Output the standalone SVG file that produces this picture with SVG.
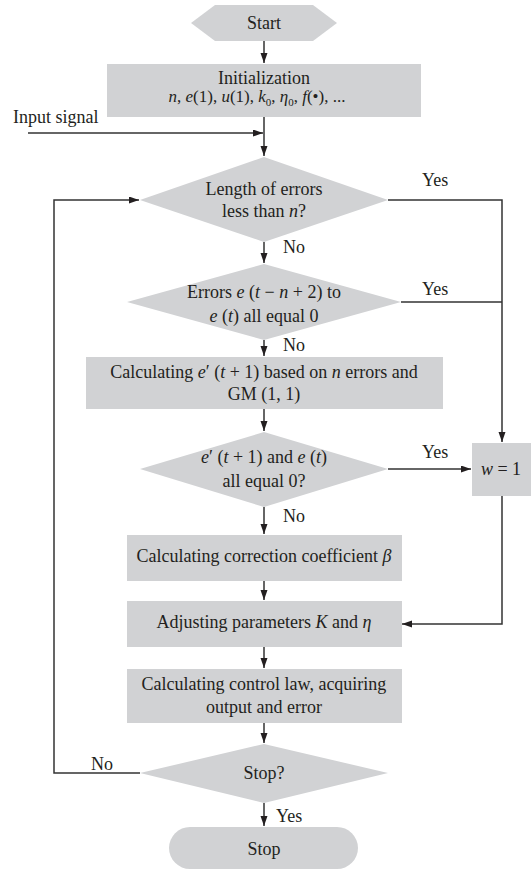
<svg xmlns="http://www.w3.org/2000/svg" width="531" height="869" viewBox="0 0 531 869">
<style>
.n{fill:#d1d2d4;stroke:none}
.t{font-family:"Liberation Serif","Times New Roman",serif;font-size:18px;fill:#231f20;text-anchor:middle}
.l{font-family:"Liberation Serif","Times New Roman",serif;font-size:18px;fill:#231f20}
.i{font-style:italic}
.c{fill:none;stroke:#333;stroke-width:1.5}
.s{font-size:11px}
</style>
<defs>
<marker id="a" markerUnits="userSpaceOnUse" markerWidth="11" markerHeight="8" refX="10" refY="3.5" orient="auto">
<path d="M0,0 L10,3.5 L0,7 z" fill="#231f20"/>
</marker>
</defs>
<rect width="531" height="869" fill="#fff"/>
<g id="connectors">
<line class="c" x1="264" y1="41" x2="264" y2="63" marker-end="url(#a)"/>
<line class="c" x1="264" y1="117" x2="264" y2="156" marker-end="url(#a)"/>
<line class="c" x1="28" y1="133" x2="263" y2="133" marker-end="url(#a)"/>
<line class="c" x1="264" y1="242" x2="264" y2="263" marker-end="url(#a)"/>
<line class="c" x1="264" y1="340" x2="264" y2="356" marker-end="url(#a)"/>
<line class="c" x1="264" y1="409" x2="264" y2="431" marker-end="url(#a)"/>
<line class="c" x1="264" y1="507" x2="264" y2="534" marker-end="url(#a)"/>
<line class="c" x1="264" y1="581" x2="264" y2="600" marker-end="url(#a)"/>
<line class="c" x1="264" y1="647" x2="264" y2="668" marker-end="url(#a)"/>
<line class="c" x1="264" y1="723" x2="264" y2="743" marker-end="url(#a)"/>
<line class="c" x1="264" y1="803" x2="264" y2="826" marker-end="url(#a)"/>
<polyline class="c" points="388,200 502,200 502,442" marker-end="url(#a)"/>
<line class="c" x1="401" y1="302" x2="502" y2="302"/>
<line class="c" x1="388" y1="469" x2="471" y2="469" marker-end="url(#a)"/>
<polyline class="c" points="502,496 502,624 402,624" marker-end="url(#a)"/>
<polyline class="c" points="140,773 54,773 54,200 139,200" marker-end="url(#a)"/>
<text class="l" x="13" y="123">Input signal</text>
<text class="l" x="422" y="186">Yes</text>
<text class="l" x="283" y="253">No</text>
<text class="l" x="422" y="295">Yes</text>
<text class="l" x="283" y="351">No</text>
<text class="l" x="422" y="458">Yes</text>
<text class="l" x="283" y="522">No</text>
<text class="l" x="91" y="770">No</text>
<text class="l" x="276" y="822">Yes</text>
</g>
<g id="start">
<polygon class="n" points="191,23 215,5 313,5 337,23 313,41 215,41"/>
<text class="t" x="264" y="29">Start</text>
</g>
<g id="init">
<rect class="n" x="107" y="64" width="314" height="53"/>
<text class="t" x="264" y="84">Initialization</text>
<text class="t" x="257" y="102" style="font-size:17px"><tspan class="i">n</tspan>, <tspan class="i">e</tspan>(1), <tspan class="i">u</tspan>(1), <tspan class="i">k</tspan><tspan class="s" dy="4">0</tspan><tspan dy="-4">, </tspan><tspan class="i">η</tspan><tspan class="s" dy="4">0</tspan><tspan dy="-4">, </tspan><tspan class="i">f</tspan>(•), ...</text>
</g>
<g id="d1">
<polygon class="n" points="140,200 264,157 388,200 264,242"/>
<text class="t" x="264" y="195">Length of errors</text>
<text class="t" x="264" y="217">less than <tspan class="i">n</tspan>?</text>
</g>
<g id="d2">
<polygon class="n" points="127,302 264,264 401,302 264,340"/>
<text class="t" x="264" y="298">Errors <tspan class="i">e</tspan> (<tspan class="i">t</tspan> − <tspan class="i">n</tspan> + 2) to</text>
<text class="t" x="264" y="322"><tspan class="i">e</tspan> (<tspan class="i">t</tspan>) all equal 0</text>
</g>
<g id="b3">
<rect class="n" x="86" y="357" width="357" height="52"/>
<text class="t" x="264" y="378">Calculating <tspan class="i">e</tspan>′ (<tspan class="i">t</tspan> + 1) based on <tspan class="i">n</tspan> errors and</text>
<text class="t" x="264" y="400">GM (1, 1)</text>
</g>
<g id="d4">
<polygon class="n" points="140,469 264,432 388,469 264,507"/>
<text class="t" x="264" y="463"><tspan class="i">e</tspan>′ (<tspan class="i">t</tspan> + 1) and <tspan class="i">e</tspan> (<tspan class="i">t</tspan>)</text>
<text class="t" x="264" y="487">all equal 0?</text>
</g>
<g id="w1">
<rect class="n" x="472" y="443" width="59" height="53"/>
<text class="t" x="501" y="475"><tspan class="i">w</tspan> = 1</text>
</g>
<g id="b5">
<rect class="n" x="127" y="535" width="275" height="46"/>
<text class="t" x="264" y="562">Calculating correction coefficient <tspan class="i">β</tspan></text>
</g>
<g id="b6">
<rect class="n" x="127" y="601" width="275" height="46"/>
<text class="t" x="264" y="628">Adjusting parameters <tspan class="i">K</tspan> and <tspan class="i">η</tspan></text>
</g>
<g id="b7">
<rect class="n" x="127" y="669" width="275" height="54"/>
<text class="t" x="264" y="690">Calculating control law, acquiring</text>
<text class="t" x="264" y="713">output and error</text>
</g>
<g id="d8">
<polygon class="n" points="140,773 264,744 388,773 264,803"/>
<text class="t" x="264" y="779">Stop?</text>
</g>
<g id="stop">
<rect class="n" x="169" y="827" width="189" height="42" rx="21"/>
<text class="t" x="264" y="855">Stop</text>
</g>
</svg>
